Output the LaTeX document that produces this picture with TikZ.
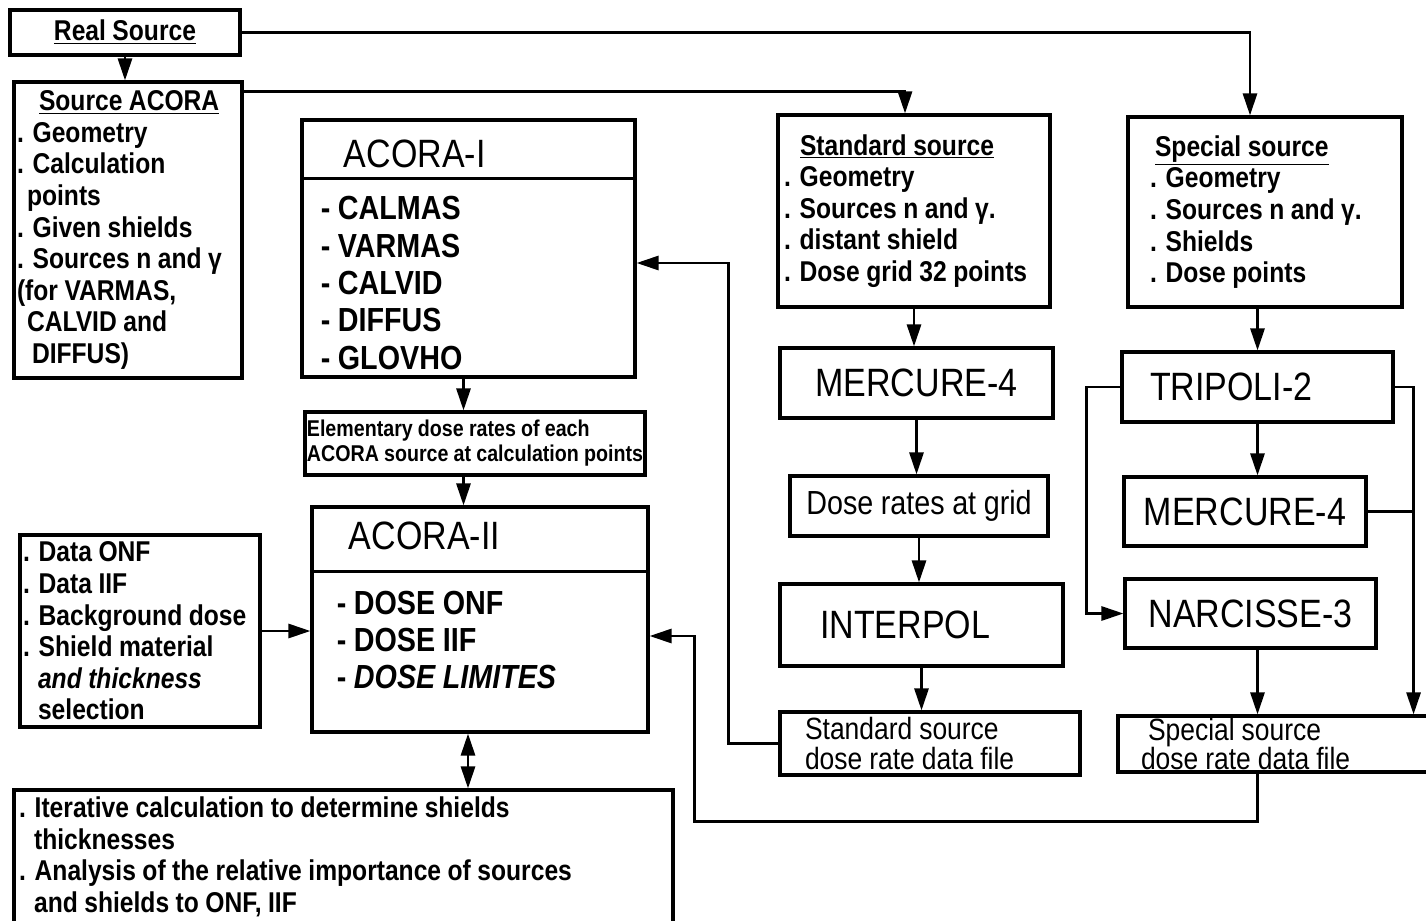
\documentclass[tikz,border=0pt]{standalone}
\usepackage{fontspec}
\setmainfont{Liberation Sans}[FakeStretch=0.86, WordSpace=0.95]
\usepackage{tikz}
\usetikzlibrary{arrows.meta, positioning}

\newcommand{\bodyfnt}{\fontsize{16.3}{18}\selectfont\bfseries}
\newcommand{\namefnt}{\fontsize{22.5}{26}\selectfont}
\newcommand{\listfnt}{\fontsize{19}{21.3}\selectfont\bfseries}
\newcommand{\smallfnt}{\fontsize{13}{14.2}\selectfont\bfseries}
\newcommand{\ratefnt}{\fontsize{19}{21}\selectfont}
\newcommand{\filefnt}{\fontsize{17.5}{17}\selectfont}

\begin{document}
\begin{tikzpicture}[x=0.02cm, y=-0.02cm, >={Triangle[length=4.4mm, width=2.8mm]},
    every node/.style={font=\bodyfnt},
    box/.style={draw, line width=1.8pt, inner sep=0pt},
    lbox/.style={box, align=flush left, inner xsep=#1},
    line/.style={line width=1.6pt}]
    \useasboundingbox (0,0) rectangle (1426,920);

    % left column
    \node[box, minimum width=4.6cm, minimum height=0.9cm] (realsrc) at (125,32.5) {\underline{Real Source}};
    \node[lbox=0.06cm, text width=4.44cm, minimum height=5.92cm] (srcacora) at (128,230) {\hspace*{0.44cm}\underline{Source ACORA}\\. Geometry\\. Calculation\\\hspace*{0.2cm}points\\. Given shields\\. Sources n and γ\\(for VARMAS,\\\hspace*{0.2cm}CALVID and\\\hspace*{0.3cm}DIFFUS)};
    \node[lbox=0.06cm, text width=4.68cm, minimum height=3.84cm] (input) at (140,631) {. Data ONF\\. Data IIF\\. Background dose\\. Shield material\\\hspace*{0.3cm}\textit{and thickness}\\\hspace*{0.3cm}selection};
    \node[lbox=0.1cm, text width=12.98cm, minimum height=2.68cm] (iter) at (343.5,857) {. Iterative calculation to determine shields\\\hspace*{0.3cm}thicknesses\\. Analysis of the relative importance of sources\\\hspace*{0.3cm}and shields to ONF, IIF};

    % ACORA codes
    \node[box, minimum width=6.66cm, minimum height=5.14cm] (acoraI) at (468.5,248.5) {};
    \draw[line] ([yshift=-1.2cm]acoraI.north west) -- ([yshift=-1.2cm]acoraI.north east);
    \node[font=\namefnt, anchor=west, inner sep=0pt] (acoraIname) at ([shift={(0.86cm,-0.7cm)}]acoraI.north west) {ACORA-I};
    \node[font=\listfnt, align=left, anchor=west, inner sep=0pt] (acoraIlist) at ([shift={(0.4cm,-0.69cm)}]acoraI.west) {- CALMAS\\- VARMAS\\- CALVID\\- DIFFUS\\- GLOVHO};
    \node[box, align=left, minimum width=6.8cm, minimum height=1.26cm, font=\smallfnt] (elem) at (475,443.5) {Elementary dose rates of each\\ACORA source at calculation points};
    \node[box, minimum width=6.72cm, minimum height=4.5cm] (acoraII) at (480,619.5) {};
    \draw[line] ([yshift=-1.32cm]acoraII.north west) -- ([yshift=-1.32cm]acoraII.north east);
    \node[font=\namefnt, anchor=west, inner sep=0pt] (acoraIIname) at ([shift={(0.76cm,-0.6cm)}]acoraII.north west) {ACORA-II};
    \node[font=\listfnt, align=left, anchor=west, inner sep=0pt] (acoraIIlist) at ([shift={(0.52cm,-0.41cm)}]acoraII.west) {- DOSE ONF\\- DOSE IIF\\- \textit{DOSE LIMITES}};

    % standard source chain
    \node[lbox=0.12cm, text width=5.2cm, minimum height=3.84cm] (stdsrc) at (914,211) {\hspace*{0.32cm}\underline{Standard source}\\. Geometry\\. Sources n and γ.\\. distant shield\\. Dose grid 32 points};
    \node[box, minimum width=5.46cm, minimum height=1.4cm, font=\namefnt] (merc1) at (916.5,383) {\raisebox{-0.15cm}{MERCURE-4}};
    \node[box, minimum width=5.16cm, minimum height=1.2cm, font=\ratefnt] (grid) at (919,506) {Dose rates at grid};
    \node[lbox=0.8cm, text width=4.06cm, minimum height=1.64cm, font=\namefnt] (interpol) at (921.5,625) {INTERPOL};
    \node[lbox=0.5cm, text width=5cm, minimum height=1.26cm, font=\filefnt] (stdfile) at (930,743.5) {Standard source\\dose rate data file};

    % special source chain
    \node[lbox=0.44cm, text width=4.6cm, minimum height=3.8cm] (spcsrc) at (1265,212) {\hspace*{0.1cm}\underline{Special source}\\. Geometry\\. Sources n and γ.\\. Shields\\. Dose points};
    \node[lbox=0.56cm, text width=4.3cm, minimum height=1.4cm, font=\namefnt] (tripoli) at (1257.5,387) {TRIPOLI-2};
    \node[box, minimum width=4.84cm, minimum height=1.38cm, font=\namefnt] (merc2) at (1245,511.5) {MERCURE-4};
    \node[box, minimum width=5.02cm, minimum height=1.38cm, font=\namefnt] (narc) at (1250.5,613.5) {NARCISSE-3};
    \node[lbox=0.46cm, text width=5.52cm, minimum height=1.12cm, font=\filefnt] (spcfile) at (1279,744) {\hspace*{0.14cm}Special source\\dose rate data file};

    % connectors
    \draw[line, ->] (realsrc.south) -- (realsrc.south |- srcacora.north);
    \draw[line, ->] (realsrc.east) -| ([xshift=-0.3cm]spcsrc.north);
    \draw[line, ->] ([yshift=-0.22cm]srcacora.north east) -| ([xshift=-0.18cm]stdsrc.north);
    \draw[line, ->] ([xshift=-0.1cm]acoraI.south) -- ([xshift=-0.1cm]acoraI.south |- elem.north);
    \draw[line, ->] ([xshift=-0.1cm]acoraI.south |- elem.south) -- ([xshift=-0.1cm]acoraI.south |- acoraII.north);
    \draw[line, ->] (input.east) -- (input.east -| acoraII.west);
    \draw[line, <->] ([xshift=-0.24cm]acoraII.south) -- ([xshift=-0.24cm]acoraII.south |- iter.north);
    \draw[line, ->] (stdsrc.south) -- (stdsrc.south |- merc1.north);
    \draw[line, ->] (merc1.south) -- (merc1.south |- grid.north);
    \draw[line, ->] (grid.south) -- (grid.south |- interpol.north);
    \draw[line, ->] (interpol.south) -- (interpol.south |- stdfile.north);
    \draw[line, ->] (stdfile.west) -- ++(-1cm,0) |- ([yshift=-0.29cm]acoraI.east);
    \draw[line, ->] (tripoli.north |- spcsrc.south) -- (tripoli.north);
    \draw[line, ->] (tripoli.south) -- (tripoli.south |- merc2.north);
    \draw[line, ->] (tripoli.west) -- ++(-0.68cm,0) |- (narc.west);
    \draw[line, ->] (tripoli.east) -- ++(0.38cm,0) coordinate (rjoin) -- (rjoin |- spcfile.north);
    \draw[line] (merc2.east) -- (merc2.east -| rjoin);
    \draw[line, ->] (tripoli.south |- narc.south) -- (tripoli.south |- spcfile.north);
    \draw[line, ->] (tripoli.south |- spcfile.south) -- ++(0,-0.96cm) -| ([xshift=0.9cm,yshift=-0.33cm]acoraII.east) -- ([yshift=-0.33cm]acoraII.east);
\end{tikzpicture}
\end{document}
